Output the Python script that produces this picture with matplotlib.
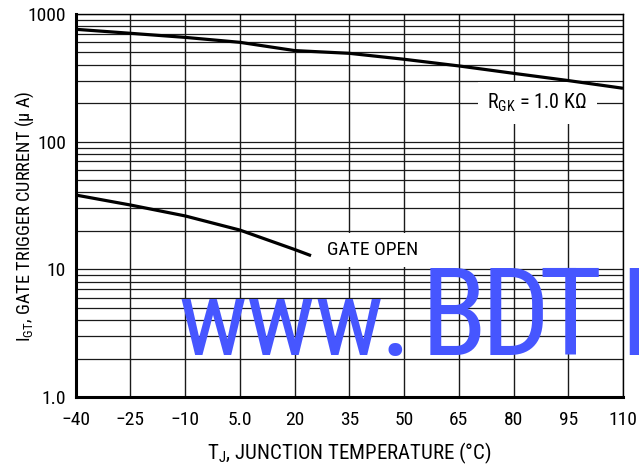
import numpy as np
import matplotlib
matplotlib.use("Agg")
import matplotlib.pyplot as plt
from matplotlib import font_manager

# look for a condensed sans face, the chart uses a narrow Helvetica
prefer = ['Liberation Sans Narrow', 'Roboto Condensed', 'Open Sans Condensed',
          'Noto Sans', 'DejaVu Sans', 'Open Sans', 'Roboto', 'Inter', 'Lato']
found = []
for f in font_manager.fontManager.ttflist:
    narrow = ('Condensed' in f.name or 'Narrow' in f.name
              or str(f.stretch) in ('condensed', 'semi-condensed', 'extra-condensed'))
    if narrow and f.style == 'normal' and f.weight in (400, 'normal', 'regular'):
        rank = prefer.index(f.name) if f.name in prefer else len(prefer)
        found.append((rank, f.name, str(f.stretch)))
if found:
    found.sort()
    FONT, STRETCH = found[0][1], found[0][2]
else:
    FONT, STRETCH = 'Liberation Sans', 'normal'

plt.rcParams['font.family'] = [FONT, 'DejaVu Sans']
plt.rcParams['font.stretch'] = STRETCH
plt.rcParams['mathtext.fontset'] = 'custom'
plt.rcParams['mathtext.rm'] = f'{FONT}:stretch={STRETCH}'
plt.rcParams['mathtext.default'] = 'rm'

# data
temp_rgk = [-40, -25, -10, 5, 20, 35, 50, 65, 80, 95, 110]
igt_rgk = [759, 706, 656, 600, 517, 492, 442, 392, 343, 301, 262]
temp_open = [-40, -25, -10, 5, 20, 24.5]
igt_open = [38.2, 31.9, 26.2, 20.3, 14.3, 12.8]

x_ticks = [-40, -25, -10, 5, 20, 35, 50, 65, 80, 95, 110]
x_labels = ['\u221240', '\u221225', '\u221210', '5.0', '20', '35', '50', '65', '80', '95', '110']
y_ticks = [1, 10, 100, 1000]
y_labels = ['1.0', '10', '100', '1000']

W, H = 639, 471
AX_L, AX_R, AX_T, AX_B = 75.7, 623, 14, 397
fig = plt.figure(figsize=(W / 100, H / 100), dpi=100, facecolor='w')
ax = fig.add_axes([AX_L / W, 1 - AX_B / H, (AX_R - AX_L) / W, (AX_B - AX_T) / H])

ax.set_yscale('log')
ax.set_xlim(-40, 110)
ax.set_ylim(1, 1000)

# grid: verticals at every tick, horizontals at every decade step
for xv in x_ticks:
    ax.axvline(xv, color='#1a1a1a', lw=1.0, zorder=1)
for dec in [1, 10, 100]:
    for m in range(1, 10):
        ax.axhline(dec * m, color='#1a1a1a', lw=0.9, zorder=1)
ax.axhline(1000, color='#1a1a1a', lw=0.9, zorder=1)

ax.plot(temp_rgk, igt_rgk, color='k', lw=2.3, solid_capstyle='butt', zorder=3)
ax.plot(temp_open, igt_open, color='k', lw=2.3, solid_capstyle='butt', zorder=3)

ax.set_xticks(x_ticks)
ax.set_xticklabels(x_labels, fontsize=14)
ax.set_yticks(y_ticks)
ax.set_yticklabels(y_labels, fontsize=14)
ax.yaxis.set_minor_locator(matplotlib.ticker.NullLocator())
ax.tick_params(axis='both', length=0)
ax.tick_params(axis='x', pad=10)
ax.tick_params(axis='y', pad=7)

for s in ('left', 'bottom'):
    ax.spines[s].set_linewidth(2.2)
for s in ('top', 'right'):
    ax.spines[s].set_linewidth(1.0)

ax.set_xlabel(r'T$_{\mathrm{J}}$, JUNCTION TEMPERATURE (°C)', fontsize=15)
ax.set_ylabel(r'I$_{\mathrm{GT}}$, GATE TRIGGER CURRENT (μ A)', fontsize=13.2)
ax.xaxis.set_label_coords(0.5, -(441 - AX_B) / (AX_B - AX_T))
ax.yaxis.set_label_coords((36 - AX_L) / (AX_R - AX_L), 1 - (216 - AX_T) / (AX_B - AX_T))

# labels sit on white patches over the grid, curves stay on top
ax.text(86.5, 200, r'R$_{\mathrm{GK}}$ = 1.0 KΩ', fontsize=14.5, ha='center', va='center',
        bbox=dict(facecolor='w', edgecolor='none', pad=7), zorder=2)
ax.text(29, 14.2, 'GATE OPEN', fontsize=14, ha='left', va='center',
        bbox=dict(facecolor='w', edgecolor='none', pad=6), zorder=2)

# watermark
blue = '#4656ff'
fig.text(178 / W, 1 - 355 / H, 'www', fontsize=76, color=blue, ha='left', va='baseline')
for txt, px in [('.', 380), ('B', 421), ('D', 481), ('T', 538), ('I', 619)]:
    fig.text(px / W, 1 - 355 / H, txt, fontsize=87.5, color=blue, ha='left', va='baseline')

fig.savefig('out.png', dpi=100, facecolor='w')
